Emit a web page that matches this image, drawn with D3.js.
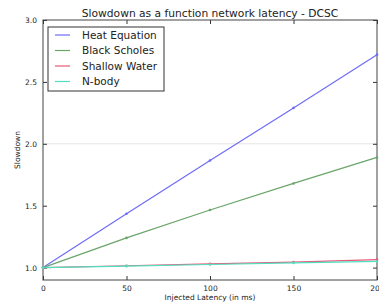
<!DOCTYPE html>
<html>
<head>
<meta charset="utf-8">
<script src="https://cdn.jsdelivr.net/npm/d3@7"></script>
<style>
  body { margin: 0; background: #fff; }
  text { font-family: "DejaVu Sans", sans-serif; fill: #222; }
</style>
</head>
<body>
<script>
// data
var latency = [0, 50, 100, 150, 200];
var heatEquation = [1.0, 1.435, 1.865, 2.29, 2.72];
var blackScholes = [1.0, 1.24, 1.465, 1.68, 1.89];
var shallowWater = [1.0, 1.015, 1.03, 1.045, 1.065];
var nBody = [1.0, 1.012, 1.025, 1.038, 1.05];
var seriesNames = ["Heat Equation", "Black Scholes", "Shallow Water", "N-body"];
var seriesColors = ["#6f6cf6", "#6aa56a", "#e8587a", "#4fe0c0"];
var xTicks = [0, 50, 100, 150, 200];
var yTicks = [1.0, 1.5, 2.0, 2.5, 3.0];

var svgWidth = 379;
var svgHeight = 302;
var margin = { top: 20, right: 2, bottom: 22, left: 43 };
var chartWidth = svgWidth - margin.left - margin.right;
var chartHeight = svgHeight - margin.top - margin.bottom;

var svg = d3.select("body")
  .append("svg")
  .attr("width", svgWidth)
  .attr("height", svgHeight);

var chartGroup = svg.append("g")
  .attr("transform", `translate(${margin.left}, ${margin.top})`);

var xScale = d3.scaleLinear().domain([0, 200]).range([0, chartWidth]);
var yScale = d3.scaleLinear().domain([0.9, 3.0]).range([chartHeight, 0]);

// faint grid line at 2.0
chartGroup.append("line")
  .attr("x1", 0).attr("x2", chartWidth)
  .attr("y1", yScale(2.0)).attr("y2", yScale(2.0))
  .attr("stroke", "#e4e4e4");

// axes, ticks pointing inwards
var bottomAxis = d3.axisBottom(xScale).tickValues(xTicks).tickSizeInner(-4).tickSizeOuter(0).tickPadding(6);
var leftAxis = d3.axisLeft(yScale).tickValues(yTicks).tickFormat(d3.format(".1f")).tickSizeInner(-4).tickSizeOuter(0).tickPadding(6);
var topAxis = d3.axisTop(xScale).tickValues(xTicks).tickSizeInner(-4).tickSizeOuter(0).tickFormat("");
var rightAxis = d3.axisRight(yScale).tickValues(yTicks).tickSizeInner(-4).tickSizeOuter(0).tickFormat("");

[
  [bottomAxis, `translate(0, ${chartHeight})`],
  [leftAxis, null],
  [topAxis, null],
  [rightAxis, `translate(${chartWidth}, 0)`]
].forEach(function (a) {
  var g = chartGroup.append("g").call(a[0]);
  if (a[1]) g.attr("transform", a[1]);
  g.select(".domain").remove();
  g.selectAll("line").attr("stroke", "#333");
  g.selectAll("text").attr("font-size", "7.5px").attr("fill", "#333").style("font-family", "DejaVu Sans");
});

// frame
chartGroup.append("rect")
  .attr("width", chartWidth)
  .attr("height", chartHeight)
  .attr("fill", "none")
  .attr("stroke", "#444")
  .attr("stroke-width", 1);

var allSeries = [heatEquation, blackScholes, shallowWater, nBody];
var line = d3.line()
  .x((d, i) => xScale(latency[i]))
  .y(d => yScale(d));

allSeries.forEach(function (vals, s) {
  chartGroup.append("path")
    .datum(vals)
    .attr("d", line)
    .attr("fill", "none")
    .attr("stroke", seriesColors[s])
    .attr("stroke-width", 1.2);
  chartGroup.selectAll(null)
    .data(vals)
    .enter()
    .append("circle")
    .attr("cx", (d, i) => xScale(latency[i]))
    .attr("cy", d => yScale(d))
    .attr("r", 1.3)
    .attr("fill", seriesColors[s]);
});

// legend
var legend = svg.append("g").attr("transform", "translate(48, 27)");
legend.append("rect")
  .attr("width", 116)
  .attr("height", 64)
  .attr("fill", "#fff")
  .attr("stroke", "#333");
seriesNames.forEach(function (name, i) {
  var y = 8 + i * 15.5;
  legend.append("line")
    .attr("x1", 7).attr("x2", 22)
    .attr("y1", y).attr("y2", y)
    .attr("stroke", seriesColors[i])
    .attr("stroke-width", 1.2);
  legend.append("text")
    .attr("x", 34)
    .attr("y", y + 3.8)
    .attr("font-size", "10.5px")
    .text(name);
});

// title and axis labels
svg.append("text")
  .attr("x", margin.left + chartWidth / 2)
  .attr("y", 17)
  .attr("text-anchor", "middle")
  .attr("font-size", "10.7px")
  .text("Slowdown as a function network latency - DCSC");

svg.append("text")
  .attr("x", margin.left + chartWidth / 2)
  .attr("y", 300)
  .attr("text-anchor", "middle")
  .attr("font-size", "7.5px")
  .text("Injected Latency (in ms)");

svg.append("text")
  .attr("transform", "rotate(-90)")
  .attr("x", -(margin.top + chartHeight / 2))
  .attr("y", 20)
  .attr("text-anchor", "middle")
  .attr("font-size", "7.5px")
  .text("Slowdown");
</script>
</body>
</html>
